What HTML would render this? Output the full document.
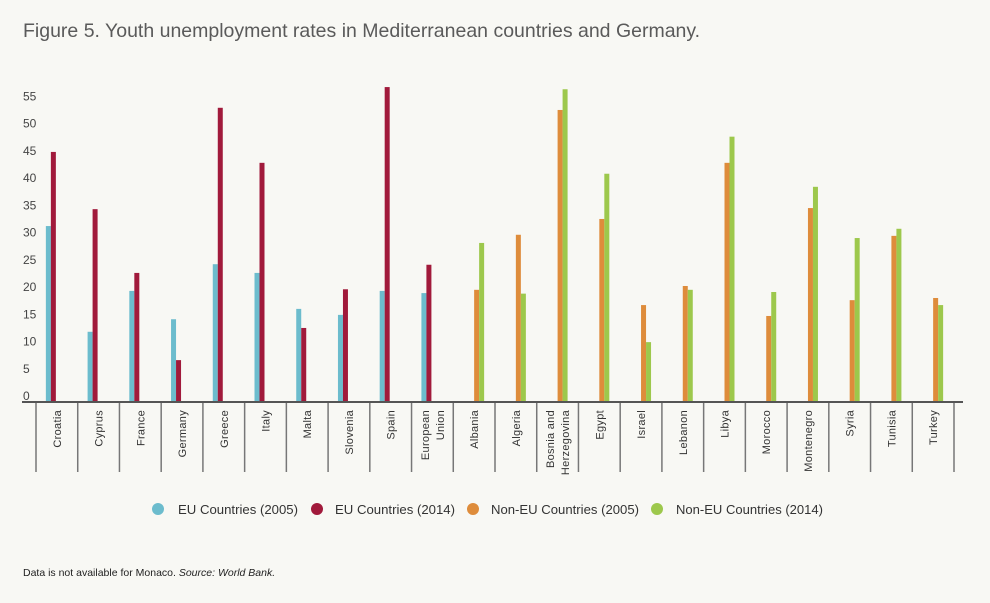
<!DOCTYPE html>
<html><head><meta charset="utf-8"><style>
body{margin:0;background:#f8f8f4;width:990px;height:598px;overflow:hidden;font-family:"Liberation Sans",sans-serif}
</style></head><body>
<svg id="c" width="990" height="598" xmlns="http://www.w3.org/2000/svg">
<rect width="990" height="598" fill="#f8f8f4"/>
<text x="23" y="37" font-size="19.5" fill="#5a5a5a">Figure 5. Youth unemployment rates in Mediterranean countries and Germany.</text>
<g id="yax"></g>
<g id="bars"></g>
<g id="xax"></g>
<g font-size="13" fill="#333">
<g><circle cx="158" cy="509" r="6" fill="#6cbccd"/><text x="178" y="514" textLength="120" lengthAdjust="spacingAndGlyphs">EU Countries (2005)</text></g>
<g><circle cx="317" cy="509" r="6" fill="#a11a3b"/><text x="335" y="514" textLength="120" lengthAdjust="spacingAndGlyphs">EU Countries (2014)</text></g>
<g><circle cx="473" cy="509" r="6" fill="#de8c3b"/><text x="491" y="514" textLength="148" lengthAdjust="spacingAndGlyphs">Non-EU Countries (2005)</text></g>
<g><circle cx="657" cy="509" r="6" fill="#9dc84c"/><text x="676" y="514" textLength="147" lengthAdjust="spacingAndGlyphs">Non-EU Countries (2014)</text></g>
</g>
<text x="23" y="576" font-size="10.5" fill="#222">Data is not available for Monaco. <tspan font-style="italic">Source: World Bank.</tspan></text>
</svg>
<script>
const categories=["Croatia","Cyprus","France","Germany","Greece","Italy","Malta","Slovenia","Spain","European|Union","Albania","Algeria","Bosnia and|Herzegovina","Egypt","Israel","Lebanon","Libya","Morocco","Montenegro","Syria","Tunisia","Turkey"];
const isEU=[1,1,1,1,1,1,1,1,1,1,0,0,0,0,0,0,0,0,0,0,0,0];
const values2005=[31.0,11.6,19.1,13.9,24.0,22.4,15.8,14.7,19.1,18.7,19.3,29.4,52.3,32.3,16.5,20.0,42.6,14.5,34.3,17.4,29.2,17.8];
const values2014=[44.6,34.1,22.4,6.4,52.7,42.6,12.3,19.4,56.5,23.9,27.9,18.6,56.1,40.6,9.7,19.3,47.4,18.9,38.2,28.8,30.5,16.5];
const yTicks=[0,5,10,15,20,25,30,35,40,45,50,55];
const NS="http://www.w3.org/2000/svg";
const base=402,x0=36,cw=(954-36)/22;
function y(v){return 395-5.45*v;}
function xc(i){return x0+cw*i+cw/2;}
function mk(t,a,p){const e=document.createElementNS(NS,t);for(const k in a)e.setAttribute(k,a[k]);p.appendChild(e);return e;}
const yax=document.getElementById('yax'),bars=document.getElementById('bars'),xax=document.getElementById('xax');
yTicks.forEach(v=>{const t=mk('text',{x:23,y:y(v)+5,'font-size':12,fill:'#444'},yax);t.textContent=v;

});
const cols=[["#6cbccd","#a11a3b"],["#de8c3b","#9dc84c"]];
categories.forEach((c,i)=>{
 const off=isEU[i]?-6:5;const cx=xc(i)+off;const cl=cols[isEU[i]?0:1];
 const b1=mk('rect',{x:cx-5,y:y(values2005[i]),width:5,height:base-y(values2005[i]),fill:cl[0]},bars);
 
 
 const b2=mk('rect',{x:cx,y:y(values2014[i]),width:5,height:base-y(values2014[i]),fill:cl[1]},bars);
 
 
 const d=mk('line',{x1:x0+cw*i,x2:x0+cw*i,y1:base,y2:472,stroke:'#777','stroke-width':1.5},xax);
 
 
 const lines=c.split('|');
 lines.forEach((l,j)=>{const tx=xc(i)+4-(lines.length-1)*7.5+j*15;
  const t=mk('text',{transform:`translate(${tx},410) rotate(-90)`,'text-anchor':'end','font-size':11,fill:'#333','letter-spacing':'0.3'},xax);t.textContent=l;
  
  });
});
const dl=mk('line',{x1:954,x2:954,y1:base,y2:472,stroke:'#777','stroke-width':1.5},xax);


const ax=mk('line',{x1:22,x2:963,y1:base,y2:base,stroke:'#555','stroke-width':2},xax);


</script>
</body></html>
